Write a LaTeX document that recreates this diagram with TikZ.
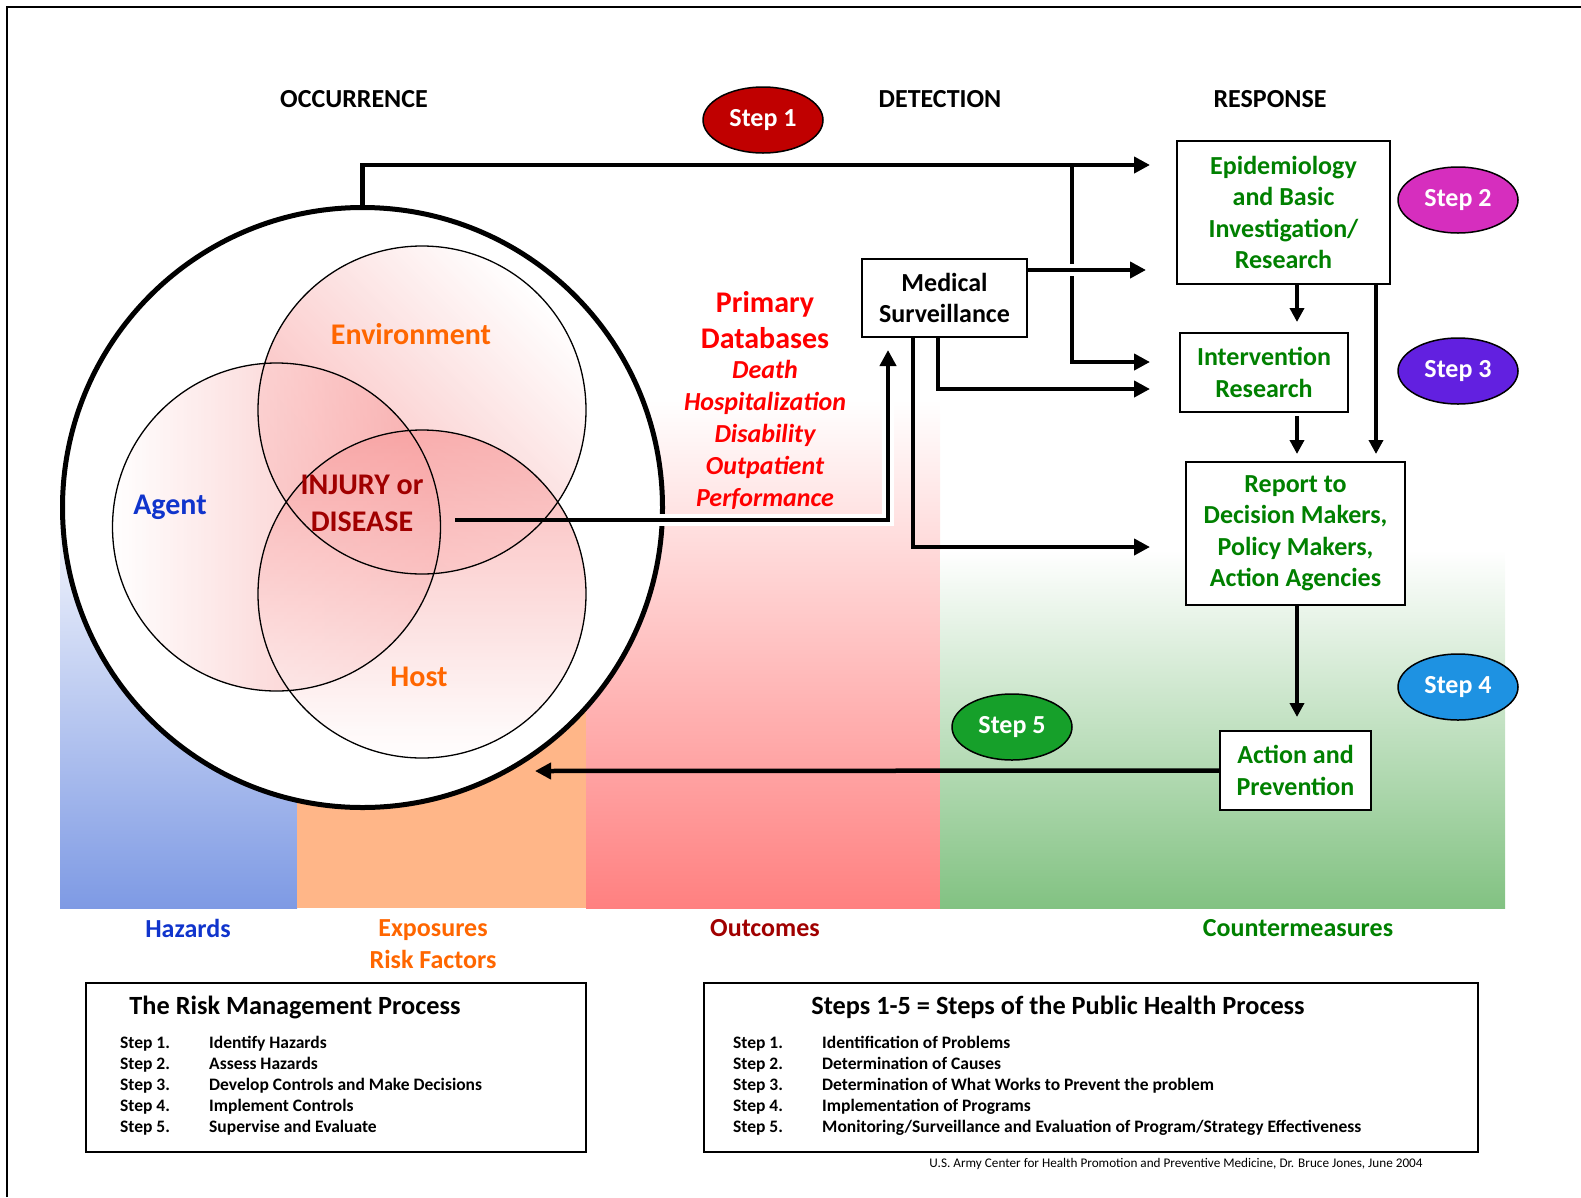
\documentclass[tikz,border=0pt]{standalone}
\usepackage{fontspec}
\setmainfont{Carlito}
\usetikzlibrary{shapes.geometric,arrows.meta,calc,positioning}

\definecolor{stepred}{RGB}{192,0,0}
\definecolor{stepmag}{RGB}{214,46,190}
\definecolor{steppur}{RGB}{98,32,224}
\definecolor{stepblue}{RGB}{30,146,226}
\definecolor{stepgreen}{RGB}{22,160,42}
\definecolor{resgreen}{RGB}{0,128,0}
\definecolor{venorange}{RGB}{255,102,0}
\definecolor{agentblue}{RGB}{16,52,204}
\definecolor{injred}{RGB}{160,0,0}
\definecolor{hazblue}{RGB}{126,154,228}
\definecolor{exppeach}{RGB}{255,182,136}
\definecolor{outpink}{RGB}{255,128,128}
\definecolor{cmgreen}{RGB}{130,194,130}
\definecolor{venpink}{RGB}{248,160,160}

\begin{document}
\begin{tikzpicture}[x=1pt,y=-1pt,
    stepoval/.style={ellipse, draw=black, line width=1.5pt, minimum width=120pt, minimum height=66pt, inner sep=0pt, text=white, font=\fontsize{26}{31}\selectfont\bfseries},
    resbox/.style={draw=black, line width=2pt, fill=white, align=center, text=resgreen, inner sep=0pt, font=\fontsize{26}{31.5}\selectfont\bfseries},
    flow/.style={line width=4.5pt, -{Triangle[length=16pt,width=16pt]}},
    downflow/.style={line width=4pt, -{Triangle[length=14pt,width=14pt]}},
    halo/.style={preaction={draw=white, line width=12pt, arrows=-, shorten <=#1, shorten >=18pt}},
    heading/.style={font=\fontsize{26}{31}\selectfont\bfseries},
    venn/.style={fill opacity=0.75, top color=white, bottom color=venpink},
    bandlabel/.style={font=\fontsize{26}{32}\selectfont\bfseries, align=center},
    legend/.style={draw=black, line width=1.5pt, inner sep=0pt},
    legtitle/.style={font=\fontsize{26.3}{31}\selectfont\bfseries},
    steplist/.style={anchor=north west, inner sep=0pt, font=\fontsize{17.5}{21}\selectfont\bfseries}]
    \useasboundingbox (0,0) rectangle (1581,1197);

    % Frame
    \draw[line width=2pt] (7,1197) -- (7,7) -- (1581,7);

    % Coloured bands
    \shade[top color=white, bottom color=hazblue] (60,480) rectangle (297,908);
    \fill[exppeach] (297,600) rectangle (586,908);
    \shade[top color=white, bottom color=outpink] (586,400) rectangle (940,908);
    \shade[top color=white, bottom color=cmgreen] (940,550) rectangle (1505,908);

    % Occurrence circle
    \node[circle, draw, line width=5pt, fill=white, minimum size=600pt, inner sep=0pt] (occ) at (362.5,507.5) {};

    % Venn circles
    \shade[venn, shading angle=-45] (422,410) circle (164pt);
    \shade[venn, shading angle=90] (276.5,527) circle (164pt);
    \shade[venn, shading angle=45, top color=venpink, bottom color=white] (422,594) circle (164pt);
    \draw[line width=1.3pt] (422,410) circle (164pt) (276.5,527) circle (164pt) (422,594) circle (164pt);

    \node[text=venorange, font=\fontsize{30}{37}\selectfont\bfseries] (env) at (411,334) {Environment};
    \node[text=agentblue, font=\fontsize{30}{37}\selectfont\bfseries] (agent) at (170,507) {Agent};
    \node[text=venorange, font=\fontsize{30}{37}\selectfont\bfseries] (host) at (419,677) {Host};
    \node[text=injred, font=\fontsize{30}{37}\selectfont\bfseries, align=center] (injury) at (362,503) {INJURY or\\DISEASE};

    % Headings
    \node[heading] (occurrence) at (354,99) {OCCURRENCE};
    \node[heading] (detection) at (940,99) {DETECTION};
    \node[heading] (response) at (1270,99) {RESPONSE};

    % Steps
    \node[stepoval, fill=stepred] (s1) at (763,120) {Step 1};
    \node[stepoval, fill=stepmag] (s2) at (1458,200) {Step 2};
    \node[stepoval, fill=steppur] (s3) at (1458,371) {Step 3};
    \node[stepoval, fill=stepblue] (s4) at (1458,687) {Step 4};
    \node[stepoval, fill=stepgreen] (s5) at (1012,727) {Step 5};

    % Response boxes
    \node[resbox, minimum width=213pt, minimum height=143pt] (epi) at (1283.5,212.5) {Epidemiology\\and Basic\\Investigation/\\Research};
    \node[resbox, minimum width=168pt, minimum height=79pt] (inter) at (1264,372.5) {Intervention\\Research};
    \node[resbox, minimum width=219pt, minimum height=143pt] (report) at (1295.5,533.5) {Report to\\Decision Makers,\\Policy Makers,\\Action Agencies};
    \node[resbox, minimum width=151pt, minimum height=79pt] (action) at (1295.5,770.5) {Action and\\Prevention};
    \node[resbox, text=black, minimum width=165pt, minimum height=78pt] (med) at (944.5,298) {Medical\\Surveillance};

    % Primary databases
    \node[text=red, font=\fontsize{30}{36}\selectfont\bfseries, align=center] (primdb) at (765,320) {Primary\\Databases};
    \node[text=red, font=\fontsize{26}{32}\selectfont\bfseries\itshape, align=center] (dblist) at (765,435) {Death\\Hospitalization\\Disability\\Outpatient\\Performance};

    % Connectors
    \coordinate (topturn) at (1072,165);
    \coordinate (epiA) at (1150,165);
    \coordinate (interA) at (1150,362);
    \coordinate (epiB) at (1146,270);
    \coordinate (interB) at (1150,389);
    \coordinate (reportA) at (1150,547);
    \coordinate (injA) at (455,520);
    \coordinate (medIn) at (888,350);
    \coordinate (occIn) at (535,771);
    \coordinate (colA) at (1297,0);
    \coordinate (colB) at (1376,0);

    \draw[flow] (occ.north) |- (epiA);
    \draw[flow] (topturn) |- (interA);
    \draw[flow, halo=3pt] (med.east |- epiB) -- (epiB);
    \draw[flow] ($(med.south)+(-6.5,0)$) |- (interB);
    \draw[flow] ($(med.south)+(-31.5,0)$) |- (reportA);
    \draw[flow, halo=190pt] (injA) -| (medIn);

    \draw[downflow, shorten >=10pt] (epi.south -| colA) -- (inter.north -| colA);
    \draw[downflow, shorten <=3pt, shorten >=7pt] (inter.south -| colA) -- (report.north -| colA);
    \draw[downflow, shorten >=7pt] (epi.south -| colB) -- (report.north -| colB);
    \draw[downflow, shorten >=13pt] (report.south -| colA) -- (action.north -| colA);
    \draw[flow] (action.west) -- (occIn);

    % Band labels
    \node[bandlabel, text=agentblue] (haz) at (188,928) {Hazards};
    \node[bandlabel, text=venorange] (expo) at (433,944) {Exposures\\Risk Factors};
    \node[bandlabel, text=injred] (outc) at (765,928) {Outcomes};
    \node[bandlabel, text=resgreen] (cm) at (1298,928) {Countermeasures};

    % Legend boxes
    \node[legend, minimum width=500pt, minimum height=169pt] (rmbox) at (336,1067.5) {};
    \node[legend, minimum width=774pt, minimum height=169pt] (phbox) at (1091,1067.5) {};
    \node[legtitle] (rmtitle) at (295,1007) {The Risk Management Process};
    \node[legtitle] (phtitle) at (1058,1007) {Steps 1-5 = Steps of the Public Health Process};
    \node[steplist] (rmsteps) at (120,1034) {\begin{tabular}{@{}p{89pt}@{}l@{}}
        Step 1. & Identify Hazards\\
        Step 2. & Assess Hazards\\
        Step 3. & Develop Controls and Make Decisions\\
        Step 4. & Implement Controls\\
        Step 5. & Supervise and Evaluate
    \end{tabular}};
    \node[steplist] (phsteps) at (733,1034) {\begin{tabular}{@{}p{89pt}@{}l@{}}
        Step 1. & Identification of Problems\\
        Step 2. & Determination of Causes\\
        Step 3. & Determination of What Works to Prevent the problem\\
        Step 4. & Implementation of Programs\\
        Step 5. & Monitoring/Surveillance and Evaluation of Program/Strategy Effectiveness
    \end{tabular}};

    \node[font=\fontsize{13.2}{15}\selectfont] (credit) at (1176,1164) {U.S. Army Center for Health Promotion and Preventive Medicine, Dr. Bruce Jones, June 2004};
\end{tikzpicture}
\end{document}
